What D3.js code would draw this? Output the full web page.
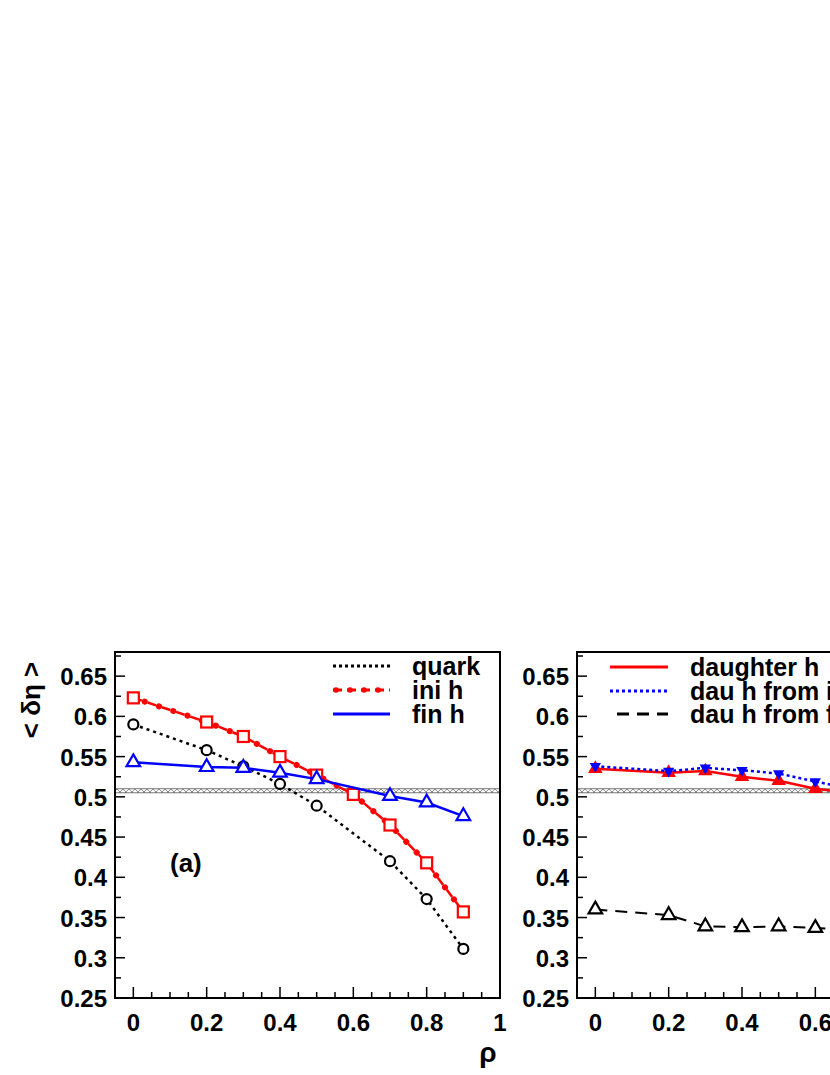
<!DOCTYPE html><html><head><meta charset="utf-8"><script src="https://cdn.jsdelivr.net/npm/d3@7"></script>
<style>body{margin:0;background:#fff}text{font-family:"Liberation Sans",Arial,sans-serif;font-weight:bold}</style></head><body>
<svg id="c" width="830" height="1075"></svg>
<script>
const rhoA=[0,0.2,0.3,0.4,0.5,0.7,0.8,0.9];
const quark=[0.590,0.558,0.538,0.516,0.489,0.420,0.373,0.311];
const rhoIni=[0,0.2,0.3,0.4,0.5,0.6,0.7,0.8,0.9];
const iniH=[0.623,0.593,0.575,0.550,0.527,0.503,0.465,0.418,0.357];
const finH=[0.543,0.537,0.536,0.530,0.522,0.501,0.493,0.476];
const rhoB=[0,0.2,0.3,0.4,0.5,0.6,0.7];
const daughterH=[0.535,0.530,0.532,0.525,0.520,0.510,0.505];
const dauFrom1=[0.538,0.532,0.536,0.533,0.529,0.519,0.510];
const dauFrom2=[0.360,0.353,0.339,0.338,0.339,0.337,0.335];
const yTicks=[0.25,0.3,0.35,0.4,0.45,0.5,0.55,0.6,0.65];
const xTicks=[0,0.2,0.4,0.6,0.8,1];
const band=[0.505,0.510];
const svg=d3.select("#c");
const defs=svg.append("defs");
const pat=defs.append("pattern").attr("id","hat").attr("width",6).attr("height",6).attr("patternUnits","userSpaceOnUse");
pat.append("path").attr("d","M0,6L6,0M-1,1L1,-1M0,0L6,6").attr("stroke","#777").attr("stroke-width",0.8);
const y=d3.scaleLinear().domain([0.25,0.68]).range([998,652]);
function panel(x0,series,legend){
 const x=d3.scaleLinear().domain([-0.05,1]).range([x0,x0+385]);
 const g=svg.append("g");
 g.append("rect").attr("x",x(-0.05)).attr("y",y(band[1])).attr("width",385).attr("height",y(band[0])-y(band[1])).attr("fill","url(#hat)").attr("stroke","#555").attr("stroke-width",0.8);
 g.append("rect").attr("x",x0).attr("y",652).attr("width",385).attr("height",346).attr("fill","none").attr("stroke","#000").attr("stroke-width",2);
 d3.range(0.25,0.6801,0.025).forEach(v=>{const maj=Math.abs(v*20-Math.round(v*20))<1e-6;
  g.append("line").attr("x1",x0).attr("x2",x0+(maj?10:6)).attr("y1",y(v)).attr("y2",y(v)).attr("stroke","#000").attr("stroke-width",1.5);});
 d3.range(0,1.001,0.05).forEach(v=>{const maj=Math.abs(v*5-Math.round(v*5))<1e-6;
  g.append("line").attr("x1",x(v)).attr("x2",x(v)).attr("y1",998).attr("y2",998-(maj?11:6)).attr("stroke","#000").attr("stroke-width",1.5);});
 yTicks.forEach(v=>g.append("text").attr("x",x0-8).attr("y",y(v)+9).attr("text-anchor","end").attr("font-size",24).text(v));
 xTicks.forEach(v=>g.append("text").attr("x",x(v)).attr("y",1031).attr("text-anchor","middle").attr("font-size",24).text(v));
 series.forEach(s=>{
  const pts=s.xs.map((r,i)=>[x(r),y(s.v[i])]);
  const p=d3.line()(pts);
  g.append("path").attr("d",p).attr("fill","none").attr("stroke",s.c).attr("stroke-width",s.w||2.5).attr("stroke-dasharray",s.d||null);
  if(s.dots)g.append("path").attr("d",p).attr("fill","none").attr("stroke",s.c).attr("stroke-width",6).attr("stroke-linecap","round").attr("stroke-dasharray","0.1,14.9").attr("stroke-dashoffset",-12);
  pts.forEach(p=>{
   if(s.m==="o")g.append("circle").attr("cx",p[0]).attr("cy",p[1]).attr("r",5).attr("fill","#fff").attr("stroke",s.c).attr("stroke-width",2.2);
   if(s.m==="s")g.append("rect").attr("x",p[0]-5.5).attr("y",p[1]-5.5).attr("width",11).attr("height",11).attr("fill","#fff").attr("stroke",s.c).attr("stroke-width",2.2);
   if(s.m==="t"||s.m==="T")g.append("path").attr("transform",`translate(${p[0]},${p[1]})`).attr("d",d3.symbol(d3.symbolTriangle,s.sz||80)()).attr("fill",s.m==="T"?s.c:"#fff").attr("stroke",s.c).attr("stroke-width",2.2);
   if(s.m==="v")g.append("path").attr("transform",`translate(${p[0]},${p[1]}) rotate(180)`).attr("d",d3.symbol(d3.symbolTriangle,55)()).attr("fill",s.c);
  });
 });
 legend.forEach(l=>{
  g.append("line").attr("x1",l.x1).attr("x2",l.x2).attr("y1",l.y).attr("y2",l.y).attr("stroke",l.c).attr("stroke-width",3).attr("stroke-dasharray",l.d||null);
  if(l.dot)d3.range(l.x1+3,l.x2,14).forEach(cx=>g.append("circle").attr("cx",cx).attr("cy",l.y).attr("r",2.8).attr("fill",l.c));
  g.append("text").attr("x",l.tx).attr("y",l.y+9).attr("font-size",25).text(l.t);
 });
 return x;
}
panel(115,[
 {xs:rhoA,v:quark,c:"#000",d:"3,4",m:"o"},
 {xs:rhoIni,v:iniH,c:"#f00",d:"9,6",dots:true,m:"s"},
 {xs:rhoA,v:finH,c:"#00f",m:"t"}],
 [{x1:333,x2:390,y:666,c:"#000",d:"3,3",t:"quark",tx:412},
  {x1:333,x2:390,y:690,c:"#f00",d:"9,5",dot:true,t:"ini h",tx:412},
  {x1:333,x2:390,y:714,c:"#00f",t:"fin h",tx:412}]);
svg.append("text").attr("x",170).attr("y",872).attr("font-size",26).text("(a)");
panel(577,[
 {xs:rhoB,v:dauFrom2,c:"#000",d:"12,8",m:"t",w:2},
 {xs:rhoB,v:daughterH,c:"#f00",m:"T",sz:50},
 {xs:rhoB,v:dauFrom1,c:"#00f",d:"3,3",m:"v"}],
 [{x1:610,x2:668,y:667,c:"#f00",t:"daughter h",tx:690},
  {x1:610,x2:668,y:691,c:"#00f",d:"3,3",t:"dau h from ini h",tx:690},
  {x1:617,x2:668,y:714,c:"#000",d:"12,8",t:"dau h from fin h",tx:690}]);
svg.append("text").attr("transform","translate(40,700) rotate(-90)").attr("text-anchor","middle").attr("font-size",26).text("< δη >");
svg.append("text").attr("x",488).attr("y",1062).attr("text-anchor","middle").attr("font-size",28).attr("font-weight","normal").text("ρ");
</script></body></html>
